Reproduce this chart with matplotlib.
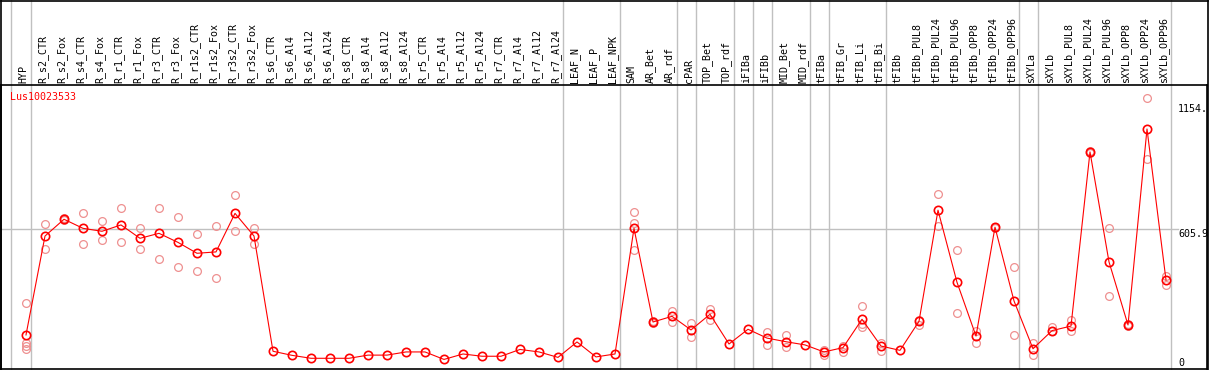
import matplotlib
matplotlib.use("Agg")
import matplotlib.pyplot as plt
import matplotlib.transforms as mtransforms
from matplotlib.lines import Line2D

title = "Lus10023533"

categories = ["HYP", "R_s2_CTR", "R_s2_Fox", "R_s4_CTR", "R_s4_Fox", "R_r1_CTR", "R_r1_Fox",
              "R_r3_CTR", "R_r3_Fox", "R_r1s2_CTR", "R_r1s2_Fox", "R_r3s2_CTR", "R_r3s2_Fox",
              "R_s6_CTR", "R_s6_Al4", "R_s6_Al12", "R_s6_Al24", "R_s8_CTR", "R_s8_Al4",
              "R_s8_Al12", "R_s8_Al24", "R_r5_CTR", "R_r5_Al4", "R_r5_Al12", "R_r5_Al24",
              "R_r7_CTR", "R_r7_Al4", "R_r7_Al12", "R_r7_Al24", "LEAF_N", "LEAF_P", "LEAF_NPK",
              "SAM", "AR_Bet", "AR_rdf", "cPAR", "TOP_Bet", "TOP_rdf", "iFIBa", "iFIBb",
              "MID_Bet", "MID_rdf", "tFIBa", "tFIB_Gr", "tFIB_Li", "tFIB_Bi", "tFIBb",
              "tFIBb_PUL8", "tFIBb_PUL24", "tFIBb_PUL96", "tFIBb_OPP8", "tFIBb_OPP24",
              "tFIBb_OPP96", "sXYLa", "sXYLb", "sXYLb_PUL8", "sXYLb_PUL24", "sXYLb_PUL96",
              "sXYLb_OPP8", "sXYLb_OPP24", "sXYLb_OPP96"]

means = [137, 573, 647, 607, 594, 622, 563, 585, 545, 497, 503, 673, 573,
         65, 47, 34, 34, 34, 48, 48, 62, 62, 29, 53, 43, 43, 73, 62, 38,
         106, 40, 53, 607, 194, 219, 159, 228, 97, 162, 123, 107, 93, 62, 81, 206, 88,
         69, 197, 687, 369, 132, 612, 287, 76, 156, 176, 944, 459, 181, 1045, 379]

replicates = [[277, 100, 90, 74], [625, 515], [652, 642], [673, 538], [638, 554],
              [695, 545], [607, 517], [695, 470], [656, 438], [581, 419], [617, 387],
              [754, 597], [607, 537],
              [], [], [], [], [], [], [], [], [], [], [], [], [], [], [], [],
              [], [], [],
              [680, 629, 510], [197, 191], [243, 193], [188, 127], [251, 203], [], [],
              [150, 94], [137, 82], [], [71, 49], [88, 62], [265, 173, 185], [103, 68],
              [], [203, 182], [758, 616], [511, 232], [156, 103], [614, 608], [435, 137],
              [100, 49], [171, 156], [203, 156], [946, 941], [609, 309], [185, 177],
              [1180, 913], [397, 356]]

# last category of each group (separator drawn after it)
group_last = ["HYP", "R_r7_Al24", "LEAF_NPK", "AR_rdf", "cPAR", "TOP_rdf", "iFIBa", "iFIBb",
              "MID_rdf", "tFIBa", "tFIB_Bi", "tFIBb_OPP96", "sXYLa", "sXYLb_OPP96"]

axis_labels = ["1154.", "605.9", "0"]
axis_values = [1154, 605.9, 0]

W, H = 1209, 370
fig = plt.figure(figsize=(W / 100, H / 100), dpi=100)
mono = "DejaVu Sans Mono"
fs = 7.2

# main data axes: pixel x 1..1207, y 85..369
ax = fig.add_axes([1 / W, (H - 369) / H, 1206 / W, (369 - 85) / H])
x = list(range(len(categories)))
y0_px, scale = 366.0, 0.2268
ax.set_ylim((y0_px - 369) / scale, (y0_px - 85) / scale)
ax.set_xlim((1 - 26) / 19, (1207 - 26) / 19)
ax.set_xticks([])
ax.set_yticks([])
for s in ax.spines.values():
    s.set_color("black")
    s.set_linewidth(1.2)

grid_c = "#c0c0c0"
top_frac = (369 - 0) / (369 - 85)
# separator before first group
ax.plot([-0.8, -0.8], [0, 1], transform=mtransforms.blended_transform_factory(ax.transData, ax.transAxes),
        color=grid_c, lw=1.0, clip_on=False, zorder=0)
ax.lines[-1].set_ydata([0, top_frac])
for name in group_last:
    i = categories.index(name)
    ax.plot([i + 0.24, i + 0.24], [0, top_frac],
            transform=mtransforms.blended_transform_factory(ax.transData, ax.transAxes),
            color=grid_c, lw=1.0, clip_on=False, zorder=0)

# horizontal grid at mid label value
ax.axhline(axis_values[1], xmin=0, xmax=(1178 - 1) / 1206, color=grid_c, lw=1.0, zorder=0)

# replicates
rx, ry = [], []
for i, reps in enumerate(replicates):
    for r in reps:
        rx.append(i)
        ry.append(r)
ax.plot(rx, ry, linestyle="none", marker="o", markersize=5.6, markerfacecolor="none",
        markeredgecolor="#ee9090", markeredgewidth=0.9, zorder=2, clip_on=False)

# mean line
ax.plot(x, means, color="#ff0000", lw=0.8, zorder=3)
ax.plot(x, means, linestyle="none", marker="o", markersize=6.0, markerfacecolor="none",
        markeredgecolor="#ff0000", markeredgewidth=1.2, zorder=4)

# header labels
trans_hdr = mtransforms.blended_transform_factory(ax.transData, fig.transFigure)
for i, name in enumerate(categories):
    ax.text(i - 0.12, (H - 83) / H, name, rotation=90, ha="center", va="bottom",
            fontsize=fs, family=mono, transform=trans_hdr, clip_on=False)

# title
fig.text(10 / W, 1 - 97 / H, title, color="#ff0000", fontsize=fs, family=mono,
         ha="left", va="center")

# right axis labels
for lab, v in zip(axis_labels, axis_values):
    ypx = y0_px - v * scale
    if v == 0:
        ypx = 358.3
    fig.text(1178 / W, 1 - ypx / H, lab, fontsize=fs, family=mono, ha="left", va="top")

# outer frame
fig.add_artist(Line2D([1 / W, 1207.5 / W], [1 - 0.6 / H, 1 - 0.6 / H], color="black", lw=1.2))
fig.add_artist(Line2D([1 / W, 1 / W], [0, 1], color="black", lw=1.2))
fig.add_artist(Line2D([1207.5 / W, 1207.5 / W], [0, 1], color="black", lw=1.2))

fig.savefig("out.png", dpi=100)
